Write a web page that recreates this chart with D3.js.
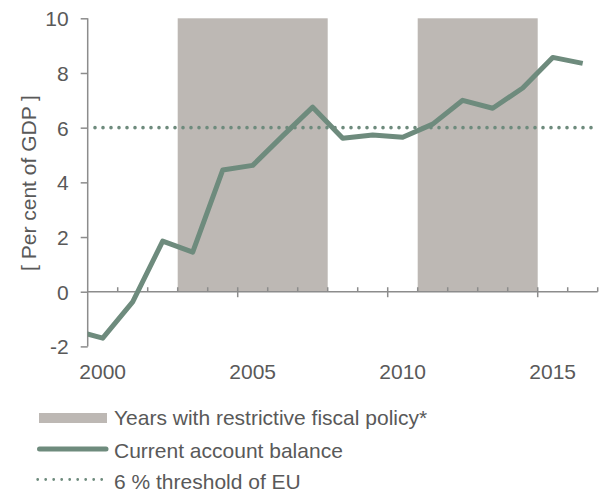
<!DOCTYPE html>
<html><head><meta charset="utf-8">
<script src="https://cdn.jsdelivr.net/npm/d3@7"></script>
<style>
html,body{margin:0;padding:0;background:#fff;}
text{font-family:"Liberation Sans",Arial,sans-serif;fill:#595959;}
</style></head>
<body><svg id="c" width="600" height="493"></svg>
<script>
const years = [1999,2000,2001,2002,2003,2004,2005,2006,2007,2008,2009,2010,2011,2012,2013,2014,2015,2016];
const balance = [-1.4,-1.7,-0.37,1.85,1.45,4.45,4.62,5.7,6.75,5.61,5.73,5.65,6.13,7.0,6.71,7.45,8.57,8.35];
const restrictiveStart = [2003,2011];
const restrictiveEnd = [2007,2014];
const threshold = 6;
const yTicks = [-2,0,2,4,6,8,10];
const xLabels = [2000,2005,2010,2015];
const legendLabels = ["Years with restrictive fiscal policy*","Current account balance","6 % threshold of EU"];

const svg = d3.select("#c");
const green = "#6e8b7d", bandCol = "#bdb8b4", axisCol = "#8c8c8c";
const x = d3.scaleLinear().domain([2000,2017]).range([87.7,597.7]);
const y = d3.scaleLinear().domain([-2,10]).range([346.4,18.3]);

svg.append("defs").append("clipPath").attr("id","clip")
  .append("rect").attr("x",x(2000)).attr("y",0).attr("width",x(2017)-x(2000)).attr("height",400);

// bands
svg.selectAll("rect.band").data(restrictiveStart).join("rect").attr("class","band")
  .attr("x",(d)=>x(d)).attr("width",(d,i)=>x(restrictiveEnd[i]+1)-x(d))
  .attr("y",y(10)).attr("height",y(0)-y(10)).attr("fill",bandCol);

// y axis
const yAxis = svg.append("g").attr("transform",`translate(${x(2000)},0)`)
  .call(d3.axisLeft(y).tickValues(yTicks).tickSize(7).tickPadding(12).tickFormat(d=>String(d)));
yAxis.select(".domain").attr("stroke",axisCol).attr("stroke-width",1.5).attr("d",`M0,${y(10)}V${y(-2)}`);
yAxis.selectAll(".tick line").attr("stroke",axisCol).attr("stroke-width",1.5);
yAxis.selectAll(".tick text").attr("font-size",21).attr("fill","#595959").attr("font-family","Liberation Sans, Arial, sans-serif").attr("dy","0.36em");

// x axis
const allYears = d3.range(2000,2018);
const xg = svg.append("g");
xg.append("line").attr("x1",x(2000)).attr("x2",x(2017)).attr("y1",y(0)).attr("y2",y(0)).attr("stroke",axisCol).attr("stroke-width",1.5);
xg.selectAll("line.tk").data(allYears.slice(1)).join("line").attr("class","tk")
  .attr("x1",d=>x(d)).attr("x2",d=>x(d))
  .attr("y1",y(0)-4.5).attr("y2",d=> d%5===0 ? y(0)+5.5 : y(0))
  .attr("stroke",axisCol).attr("stroke-width",1.5);
xg.selectAll("text").data(xLabels).join("text")
  .attr("x",d=>x(d+0.5)).attr("y",379).attr("text-anchor","middle").attr("font-size",21).text(d=>d);

// y label
svg.append("text").attr("transform","translate(36,183) rotate(-90)").attr("text-anchor","middle")
  .attr("font-size",21).text("[ Per cent of GDP ]");

// threshold
svg.append("line").attr("x1",x(2000)+7.3).attr("x2",x(2017)).attr("y1",y(threshold)).attr("y2",y(threshold))
  .attr("stroke",green).attr("stroke-width",3.6).attr("stroke-linecap","round").attr("stroke-dasharray","0,8");

// line
const line = d3.line().x((d,i)=>x(years[i]+0.5)).y(d=>y(d));
svg.append("path").attr("d",line(balance)).attr("clip-path","url(#clip)")
  .attr("fill","none").attr("stroke",green).attr("stroke-width",5).attr("stroke-linejoin","round");

// legend
const lg = svg.append("g");
lg.append("rect").attr("x",39).attr("y",413).attr("width",68).attr("height",10).attr("fill",bandCol);
lg.append("line").attr("x1",39.5).attr("x2",106).attr("y1",449).attr("y2",449).attr("stroke",green).attr("stroke-width",5).attr("stroke-linecap","round");
lg.append("line").attr("x1",37.7).attr("x2",103).attr("y1",479.5).attr("y2",479.5).attr("stroke",green).attr("stroke-width",2.8).attr("stroke-linecap","round").attr("stroke-dasharray","0,8");
lg.selectAll("text").data(legendLabels).join("text").attr("x",114).attr("y",(d,i)=>[424.5,457.5,488.5][i])
  .attr("font-size",21).text(d=>d);
</script></body></html>
